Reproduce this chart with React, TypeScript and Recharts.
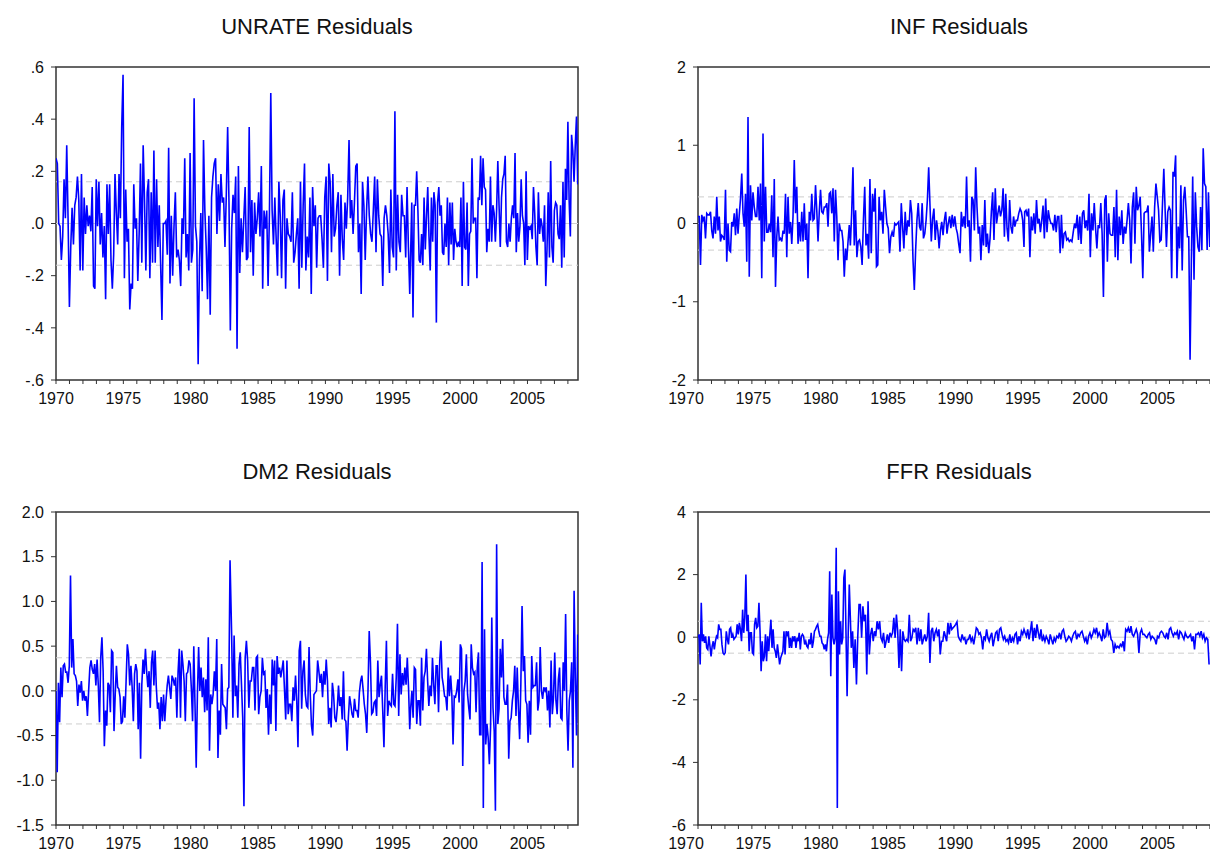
import React from "react"
import { LineChart, Line, XAxis, YAxis, ReferenceLine, ReferenceArea } from "recharts"

// x axis: one tick per year, labels every five years
const yearTicks = [
  1970, 1971, 1972, 1973, 1974, 1975, 1976, 1977, 1978, 1979,
  1980, 1981, 1982, 1983, 1984, 1985, 1986, 1987, 1988, 1989,
  1990, 1991, 1992, 1993, 1994, 1995, 1996, 1997, 1998, 1999,
  2000, 2001, 2002, 2003, 2004, 2005, 2006, 2007, 2008,
]
const yearLabels = ["1970", "1975", "1980", "1985", "1990", "1995", "2000", "2005"]

// y axes
const unrateTicks = [-0.6, -0.4, -0.2, 0, 0.2, 0.4, 0.6]
const unrateTickLabels = ["-.6", "-.4", "-.2", ".0", ".2", ".4", ".6"]
const infTicks = [-2, -1, 0, 1, 2]
const infTickLabels = ["-2", "-1", "0", "1", "2"]
const dm2Ticks = [-1.5, -1, -0.5, 0, 0.5, 1, 1.5, 2]
const dm2TickLabels = ["-1.5", "-1.0", "-0.5", "0.0", "0.5", "1.0", "1.5", "2.0"]
const ffrTicks = [-6, -4, -2, 0, 2, 4]
const ffrTickLabels = ["-6", "-4", "-2", "0", "2", "4"]

// +/- band drawn as dashed lines
const unrateBand = 0.16
const infBand = 0.34
const dm2Band = 0.37
const ffrBand = 0.51

// residuals in three stretches per series
const unrateA = [
  0.25, 0.23, 0.0, -0.01, -0.14, -0.05, 0.17, 0.02, 0.3, 0.02,
  -0.32, -0.09, 0.06, -0.08, 0.07, 0.1, 0.18, 0.09, -0.18, 0.19,
  -0.18, 0.1, -0.04, 0.07, -0.01, 0.03, -0.03, 0.14, -0.24, -0.25,
  0.17, -0.01, 0.16, -0.08, 0.04, -0.13, -0.01, -0.29, 0.15, -0.04,
  0.15, -0.14, -0.25, -0.12, 0.19, 0.04, -0.08, 0.19, 0.02, 0.37,
  0.57, -0.21, 0.13, -0.07, -0.02, -0.33, -0.23, -0.25, 0.15, -0.02,
  0.02, -0.22, -0.04, 0.23, -0.15, 0.3, 0.09, -0.18, 0.12, 0.17,
  -0.21, 0.12, -0.15, 0.28, -0.15, 0.17, -0.09, 0.07, -0.15, -0.37,
  0.0, 0.0, 0.01, -0.12, 0.29, -0.23, 0.03, -0.2, -0.01, 0.12,
  -0.13, -0.1, -0.14, -0.24, 0.02, -0.04, 0.25, -0.13, -0.04, -0.18,
  0.27, -0.15, -0.1, 0.48, -0.01, -0.07, -0.54, -0.14, 0.04, -0.26,
  0.32, 0.05, -0.09, -0.29, 0.03, -0.35, 0.1, 0.18, 0.23, 0.25,
  -0.04, 0.15, 0.01, 0.19, 0.08, 0.1, -0.09, 0.11, 0.37, 0.08,
  -0.41, -0.02, 0.11, 0.04,
]
const unrateB = [
  0.18, -0.48, 0.22, -0.19, 0.02, -0.11, 0.02, 0.14, -0.14, -0.13,
  0.37, -0.11, 0.09, -0.2, 0.08, -0.04, 0.02, 0.12, -0.05, 0.22,
  -0.25, 0.05, -0.02, 0.05, -0.24, 0.04, 0.5, 0.05, -0.08, 0.1,
  -0.06, -0.2, 0.16, 0.03, -0.21, 0.09, 0.13, -0.25, 0.02, -0.04,
  -0.05, -0.07, 0.12, -0.15, -0.11, -0.04, 0.02, -0.25, 0.16, -0.17,
  0.07, 0.23, -0.18, -0.05, -0.13, 0.1, -0.27, 0.14, -0.01, 0.07,
  -0.17, 0.02, 0.03, 0.03, -0.06, -0.17, 0.1, 0.18, -0.22, 0.23,
  0.16, -0.11, 0.19, -0.05, -0.02, 0.07, 0.12, -0.2, 0.11, -0.06,
  -0.14, 0.08, -0.02, 0.1, 0.32, 0.02, 0.09, -0.04, 0.08, 0.22,
  0.23, -0.11, 0.0, -0.27, 0.16, 0.07, -0.14, 0.05, 0.18, 0.03,
  -0.04, -0.07, 0.05, 0.18, -0.11, 0.17, 0.03, -0.04, -0.05, -0.24,
  0.02, 0.07, 0.03, -0.04, -0.19, 0.13, -0.09, -0.13, 0.43, -0.18,
  0.11, -0.07, -0.11, 0.11, 0.03, 0.03, -0.13, 0.14, -0.09, -0.27,
]
const unrateC = [
  0.08, -0.36, 0.07, 0.07, 0.2, 0.05, -0.14, -0.15, -0.04, -0.16,
  0.1, -0.1, 0.03, 0.14, -0.05, -0.18, 0.1, -0.07, 0.12, 0.07,
  -0.38, 0.08, 0.14, 0.03, 0.07, -0.11, -0.12, 0.0, -0.09, 0.1,
  -0.16, 0.08, -0.08, 0.08, -0.14, -0.02, -0.07, -0.09, -0.07, -0.09,
  0.1, -0.24, 0.16, -0.09, -0.1, 0.08, -0.24, -0.04, -0.03, 0.25,
  0.0, 0.02, 0.02, -0.21, 0.1, 0.09, 0.26, 0.07, 0.25, 0.14,
  0.13, -0.11, -0.02, -0.07, 0.18, -0.07, 0.07, 0.04, -0.07, 0.05,
  0.24, 0.07, -0.09, 0.1, 0.17, 0.19, 0.26, -0.07, -0.09, 0.0,
  -0.07, 0.02, 0.07, 0.02, 0.27, -0.11, 0.04, -0.07, -0.01, 0.17,
  0.03, 0.0, -0.16, 0.2, -0.14, -0.01, -0.02, -0.01, -0.06, 0.14,
  0.04, -0.09, -0.16, 0.12, -0.04, 0.02, -0.01, -0.07, 0.07, -0.24,
  -0.1, 0.12, -0.13, 0.24, -0.09, -0.15, 0.05, 0.08, 0.07, -0.04,
  -0.06, 0.07, -0.17, 0.16, -0.13, 0.21, 0.09, 0.39, 0.09, -0.05,
  0.34, 0.28, 0.16, 0.3, 0.41, 0.15,
]
const unrateSpans = [[1970, 1983.24], [1983.34, 1996.26], [1996.41, 2008.73]]

const infA = [
  0.09, 0.09, -0.53, 0.11, 0.04, 0.09, -0.19, 0.13, 0.11, 0.11,
  0.15, -0.09, -0.19, 0.09, -0.13, 0.34, -0.09, 0.09, -0.23, -0.15,
  -0.17, -0.21, 0.43, -0.49, 0.0, -0.34, -0.36, 0.02, -0.04, 0.13,
  -0.15, 0.19, -0.13, 0.11, 0.32, 0.64, 0.13, -0.04, 0.38, -0.49,
  1.36, -0.68, 0.49, 0.04, 0.4, 0.21, 0.09, 0.09, 0.47, 0.04,
  0.51, -0.7, 1.15, -0.23, 0.47, -0.11, -0.11, 0.0, -0.11, 0.36,
  -0.43, 0.57, -0.81, -0.17, 0.09, -0.21, -0.19, -0.23, -0.09, -0.13,
  0.38, -0.43, 0.34, -0.13, 0.02, -0.26, 0.09, 0.81, 0.13, 0.47,
  -0.26, 0.02, -0.23, 0.15, -0.23, 0.26, -0.21, 0.0, -0.7, 0.15,
  0.04, 0.38, 0.04, 0.06, 0.49, 0.17, -0.23, 0.15, 0.43, 0.15,
  0.13, 0.21, 0.21, 0.26, -0.04, 0.38, 0.4, 0.13, 0.45, -0.23,
  0.43, 0.09, -0.47, 0.0, -0.09, -0.09, -0.23, -0.68, -0.32, -0.47,
  -0.23, -0.02,
]
const infB = [
  -0.28, 0.13, 0.72, -0.28, 0.17, -0.43, -0.23, -0.21, -0.3, -0.53,
  0.04, 0.47, -0.28, -0.13, -0.45, 0.57, -0.38, 0.38, 0.15, 0.45,
  -0.55, -0.53, 0.34, 0.04, 0.15, -0.13, 0.43, 0.21, 0.0, -0.06,
  -0.38, -0.17, -0.11, -0.17, 0.0, -0.02, 0.0, 0.02, -0.36, 0.26,
  -0.04, -0.32, 0.15, -0.15, 0.04, -0.04, 0.3, 0.13, -0.47, -0.85,
  -0.34, 0.04, 0.26, -0.04, -0.09, 0.26, -0.19, -0.13, 0.04, 0.3,
  0.72, 0.23, -0.23, 0.06, 0.19, -0.21, 0.04, -0.09, -0.32, -0.09,
  0.02, -0.15, 0.04, 0.15, -0.13, 0.0, 0.09, -0.06, 0.11, -0.04,
  0.09, -0.06, -0.13, -0.26, -0.38, 0.15, -0.04, 0.09, -0.06, 0.6,
  -0.04, 0.04, -0.49, 0.34, 0.3, -0.09, 0.72, 0.21, -0.13, -0.04,
  -0.47, -0.02, -0.28, 0.3, -0.3, -0.13, -0.38, -0.19, 0.15, 0.4,
  -0.21, 0.45, 0.0, 0.13, 0.23, 0.09, 0.17, 0.45, -0.17, 0.38,
  -0.06, -0.23, 0.3, -0.04, -0.13, 0.09, -0.04, 0.04, 0.04, 0.13,
  0.19, 0.15, 0.04, -0.3,
]
const infC = [
  0.15, 0.17, 0.09, 0.19, -0.43, 0.09, -0.09, 0.13, -0.13, 0.3,
  0.0, 0.06, -0.11, 0.04, 0.23, -0.19, 0.32, -0.11, 0.17, 0.06,
  0.0, 0.0, -0.09, 0.11, -0.11, 0.09, 0.09, -0.38, 0.11, -0.32,
  -0.13, -0.11, -0.21, -0.19, -0.23, -0.21, -0.23, -0.11, 0.0, -0.06,
  0.11, -0.21, 0.09, -0.26, 0.13, 0.17, -0.06, 0.04, -0.09, 0.38,
  -0.43, 0.13, -0.09, 0.26, -0.06, -0.32, -0.02, -0.06, 0.26, -0.13,
  -0.94, 0.3, 0.36, -0.49, 0.13, -0.13, -0.15, -0.15, 0.21, -0.43,
  0.43, -0.47, 0.09, -0.15, 0.17, -0.26, -0.04, -0.13, 0.04, 0.26,
  0.04, -0.51, 0.21, 0.4, -0.26, 0.47, 0.17, 0.23, 0.34, -0.13,
  -0.7, 0.13, 0.15, 0.15, 0.23, -0.36, -0.13, 0.09, -0.36, 0.21,
  0.51, 0.34, 0.17, -0.23, -0.21, 0.26, 0.7, 0.17, -0.3, 0.15,
  0.21, 0.17, -0.7, 0.66, 0.6, 0.87, -0.7, -0.04, -0.32, 0.49,
  -0.6, 0.3, 0.47, 0.17, -0.17, -0.17, -1.74, -0.47, 0.6, -0.72,
  0.4, -0.04, -0.3, -0.36, 0.21, -0.34, 0.96, 0.51, 0.47, -0.34,
  0.4, -0.3,
]
const infSpans = [[1970, 1981.23], [1981.31, 1994.2], [1994.25, 2007.99]]

const dm2A = [
  0.0, -0.91, 0.09, -0.35, 0.26, -0.07, 0.28, 0.3, 0.21, 0.21,
  0.09, 0.28, 1.29, 0.26, 0.58, 0.19, 0.17, 0.11, -0.17, 0.07,
  -0.02, 0.11, -0.11, 0.0, -0.11, -0.06, -0.28, 0.0, 0.26, 0.34,
  0.24, 0.19, 0.3, 0.06, 0.35, 0.06, -0.35, 0.37, 0.6, 0.22,
  -0.62, -0.22, -0.39, 0.09, 0.06, -0.24, 0.45, 0.43, -0.45, -0.04,
  0.28, 0.04, 0.02, -0.07, -0.37, -0.34, -0.06, -0.3, 0.11, 0.52,
  0.41, 0.06, 0.28, 0.04, -0.34, 0.19, 0.3, 0.22, -0.43, 0.09,
  -0.76, 0.07, 0.35, 0.19, 0.47, 0.22, 0.04, 0.22, -0.19, 0.32,
  0.45, 0.06, 0.45, 0.04, -0.2, -0.13, -0.43, -0.07, -0.34, -0.04,
  -0.34, -0.11, 0.06, 0.17, 0.04, -0.09, 0.17, 0.13, 0.06, 0.15,
  -0.3, 0.21, 0.47, -0.3, 0.45, 0.3, 0.11, -0.34, 0.19, 0.21,
  0.34, 0.3, 0.02, -0.34, 0.5, -0.15, -0.86, -0.04, 0.49, 0.0,
  0.26, -0.07, 0.15, -0.24, 0.13, -0.22, 0.6, -0.67, -0.04, -0.15,
  -0.04, 0.22, 0.0, 0.58, -0.75, -0.22, -0.49, 0.3, -0.15, -0.17,
  -0.19, -0.43, 0.02, 0.04, 1.46,
]
const dm2B = [
  0.62, -0.3, 0.62, -0.06, 0.06, -0.3, 0.3, 0.43, 0.07, -0.3,
  -1.29, 0.37, 0.56, 0.34, -0.19, 0.11, 0.11, 0.26, 0.26, -0.22,
  0.37, 0.39, -0.26, -0.07, 0.0, 0.37, 0.19, 0.21, -0.19, 0.02,
  -0.49, -0.04, -0.37, 0.35, 0.06, 0.34, -0.45, 0.39, 0.19, 0.26,
  0.15, 0.24, 0.34, 0.02, -0.32, 0.34, -0.26, -0.15, -0.15, -0.34,
  0.04, -0.11, 0.17, -0.11, -0.63, 0.45, 0.56, -0.2, 0.22, 0.34,
  -0.04, -0.17, -0.19, 0.49, -0.04, -0.39, -0.5, -0.04, -0.02, 0.0,
  0.34, 0.22, 0.09, 0.19, -0.07, 0.22, 0.07, 0.35, 0.11, -0.37,
  -0.19, -0.41, 0.09, -0.04, -0.3, -0.35, -0.19, 0.06, -0.17, -0.07,
  -0.32, 0.22, -0.32, -0.34, -0.67, -0.3, -0.06, -0.15, -0.26, -0.3,
  -0.09, -0.22, -0.22, -0.3, -0.02, 0.11, 0.17, 0.02, -0.15, -0.26,
  -0.47, 0.0, 0.67, 0.32, -0.26, -0.24, -0.13, -0.11, -0.28, 0.34,
  -0.07, 0.07, 0.17, -0.22, -0.63, 0.04, 0.56, -0.28, -0.11, -0.15,
  -0.17, 0.19, -0.15, -0.17, 0.15, 0.75, -0.28, 0.41, -0.04, 0.2,
  0.06, 0.26, 0.07, 0.37, 0.04, -0.43,
]
const dm2C = [
  -0.19, 0.0, -0.3, 0.26, 0.24, -0.37, -0.11, -0.11, -0.39, 0.37,
  -0.22, 0.15, 0.22, 0.47, 0.11, -0.17, 0.06, -0.06, 0.37, 0.07,
  -0.15, 0.28, 0.28, -0.24, 0.34, 0.56, 0.15, 0.06, -0.06, -0.07,
  -0.22, 0.26, -0.06, 0.17, -0.04, -0.6, -0.06, -0.07, 0.0, 0.13,
  -0.13, 0.52, 0.47, -0.84, 0.0, 0.11, 0.41, -0.04, -0.19, -0.32,
  0.52, 0.26, 0.19, 0.21, -0.24, 0.26, 0.43, -0.49, -0.49, 1.44,
  -1.31, 0.69, -0.6, -0.37, -0.52, -0.82, -0.41, 0.82, -0.19, -0.45,
  -1.34, 1.64, -0.37, -0.2, 0.47, 0.15, 0.58, -0.07, -0.15, -0.15,
  0.07, -0.76, -0.34, -0.3, -0.11, 0.0, 0.28, -0.28, 0.26, -0.19,
  -0.54, 0.07, 0.95, 0.22, 0.39, -0.11, -0.15, -0.58, -0.11, -0.49,
  0.39, 0.04, 0.06, 0.06, 0.32, -0.22, -0.11, 0.49, 0.0, -0.09,
  0.04, 0.0, 0.04, -0.22, 0.0, -0.41, 0.34, -0.26, -0.07, 0.43,
  -0.11, -0.26, 0.13, 0.26, -0.3, -0.32, 0.32, 0.0, 0.86, -0.22,
  -0.67, -0.11, 0.0, 0.32, -0.86, 1.12, 0.15, -0.5, 0.63,
]
const dm2Spans = [[1970, 1982.92], [1983.04, 1996.26], [1996.33, 2008.73]]

const ffrA = [
  -0.02, 0.09, -0.87, 1.1, -0.13, 0.09, -0.18, 0.03, -0.34, -0.39,
  0.03, -0.29, -0.61, -0.29, -0.13, -0.39, -0.13, 0.03, -0.02, 0.41,
  0.25, 0.25, -0.23, -0.5, -0.55, -0.5, 0.19, -0.07, -0.23, 0.25,
  0.3, -0.02, 0.09, -0.07, -0.02, 0.03, 0.41, 0.09, 0.46, 0.25,
  -0.13, 0.88, 0.14, 0.62, 2.0, 0.19, 0.72, -0.45, 0.14, 0.14,
  -0.5, -0.55, 0.41, 0.62, 0.3, 0.35, 1.1, 0.19, -1.09, -0.13,
  -0.77, -0.61, 0.09, -0.77, 0.03, -0.45, 0.09, 0.56, -0.34, 0.25,
  -0.34, -0.45, -0.66, -0.23, -0.55, -0.87, -0.66, -0.55, -0.45, 0.19,
  -0.55, 0.19, 0.03, 0.19, -0.34, -0.02, -0.34, 0.03, -0.13, 0.03,
  -0.34, -0.02, -0.13, 0.14, -0.39, 0.03, 0.09, 0.03, -0.23, -0.13,
  -0.29, -0.34, -0.07, -0.23, 0.14, -0.34, -0.13, 0.19, 0.25, 0.35,
  0.41, 0.19, 0.03, 0.03, -0.18, -0.23, -0.39, -0.23, -0.45, -0.07,
  0.14, 2.11, -1.25, 1.36, -0.02, -0.23, -0.02, 2.86, -5.46,
  1.47, -0.55, 0.51, -0.23, -0.02, 1.9, 2.16, 0.09, -1.89, 0.09,
  1.68,
]
const ffrB = [
  -0.34, 0.19, -0.98, -0.07, -1.51, 0.0, 1.04, 1.04, -0.02, 0.99,
  0.51, 0.72, -1.19, 1.15, -0.55, 0.09, 0.3, -0.13, 0.19, 0.03,
  0.51, 0.25, 0.51, -0.02, -0.13, 0.14, -0.34, -0.13, 0.09, -0.18,
  0.14, 0.03, 0.14, 0.62, -0.02, 0.72, 0.19, -0.98, 0.25, -1.09,
  0.19, -0.07, -0.13, -0.07, -0.13, 0.72, -0.13, -0.02, 0.25, 0.19,
  0.3, -0.23, 0.3, -0.13, 0.25, -0.23, -0.07, 0.09, -0.13, 0.03,
  0.78, -0.82, 0.19, 0.3, -0.13, 0.14, 0.25, 0.03, 0.25, -0.55,
  -0.13, -0.13, 0.19, 0.03, -0.13, 0.46, 0.09, 0.46, 0.25, 0.3,
  0.35, 0.41, 0.49, 0.03, -0.07, -0.13, 0.09, -0.07, -0.02, -0.23,
  -0.07, -0.07, 0.09, -0.13, -0.02, -0.23, 0.03, 0.3, 0.25, 0.09,
  0.14, -0.02, -0.39, 0.03, -0.07, 0.25, -0.02, -0.13, 0.03, 0.14,
  -0.29, -0.07, 0.14, 0.19, -0.13, 0.25, 0.3, 0.09, -0.07, 0.03,
  -0.13, -0.07, -0.18, 0.09, -0.18, -0.02, -0.13, 0.09, 0.14, -0.23,
  0.03, -0.13, 0.19, 0.09, 0.25,
]
const ffrC = [
  0.14, 0.03, 0.25, -0.07, 0.19, 0.51, -0.13, 0.3, -0.02, 0.41,
  0.14, -0.07, 0.25, -0.13, 0.03, -0.13, 0.03, -0.07, -0.23, 0.09,
  -0.07, -0.23, -0.02, -0.13, 0.03, -0.02, 0.14, -0.07, 0.19, 0.25,
  0.03, -0.13, -0.07, 0.03, -0.02, -0.13, 0.03, 0.14, 0.19, -0.07,
  0.09, 0.03, 0.14, 0.19, 0.03, -0.13, -0.02, -0.23, 0.03, 0.14,
  -0.02, 0.09, 0.25, 0.14, 0.3, 0.03, 0.14, 0.03, -0.13, 0.25,
  -0.02, 0.03, 0.46, 0.09, 0.19, -0.07, -0.13, -0.5, -0.23, -0.34,
  -0.29, -0.34, -0.23, -0.29, -0.13, -0.45, 0.25, 0.19, 0.3, 0.14,
  0.35, 0.09, 0.03, 0.14, 0.25, 0.09, -0.5, 0.14, 0.25, 0.09,
  0.09, 0.03, -0.02, 0.09, 0.14, -0.07, 0.03, -0.02, -0.07, -0.23,
  0.03, -0.02, 0.14, 0.19, 0.14, 0.03, -0.02, 0.14, -0.07, 0.25,
  0.3, 0.14, 0.03, 0.14, 0.09, 0.19, -0.07, 0.19, 0.14, 0.03,
  -0.07, 0.14, 0.03, -0.02, 0.03, 0.09, -0.13, 0.03, -0.39, 0.09,
  0.09, 0.14, 0.03, 0.19, -0.02, 0.09, -0.13, -0.02, -0.07, -0.87,
]
const ffrSpans = [[1970, 1981.23], [1981.38, 1994.2], [1994.28, 2007.94]]

type Pt = { t: number; v: number }

// spread each stretch of observations evenly over its dates
function joinSegments(segs: number[][], spans: number[][]): Pt[] {
  const out: Pt[] = []
  segs.forEach((vals, k) => {
    const [a, b] = spans[k]
    const step = (b - a) / (vals.length - 1)
    vals.forEach((v, i) => out.push({ t: a + i * step, v }))
  })
  return out
}

const FONT = '"Liberation Sans", Arial, Helvetica, sans-serif'
const PLOT_W = 522
const PLOT_H = 313
const X_AXIS_H = 36
const MARGIN = { top: 10, right: 10, bottom: 0, left: 0 }
const X_MIN = 1970
const X_MAX = 2008.75

type PanelProps = {
  title: string
  data: Pt[]
  yTicks: number[]
  yLabels: string[]
  band: number
  x: number
  y: number
  yAxisW: number
  labelShift: number
}

function Panel({ title, data, yTicks, yLabels, band, x, y, yAxisW, labelShift }: PanelProps) {
  const yMin = yTicks[0]
  const yMax = yTicks[yTicks.length - 1]
  const fmtY = (v: number) => {
    const i = yTicks.findIndex((t) => Math.abs(t - v) < 1e-9)
    return i >= 0 ? yLabels[i] : ""
  }
  const tickStyle = { fontSize: 16, fill: "#111", fontFamily: FONT }
  const YearTick = (props: any) => {
    const label = String(props.payload.value)
    if (!yearLabels.includes(label)) return <g />
    return (
      <text
        x={props.x + labelShift}
        y={props.y}
        dy="0.71em"
        textAnchor="middle"
        fontSize={16}
        fill="#111"
        fontFamily={FONT}
      >
        {label}
      </text>
    )
  }
  return (
    <>
      <div
        style={{
          position: "absolute",
          left: x,
          top: y - 53,
          width: PLOT_W,
          textAlign: "center",
          fontSize: 22,
          lineHeight: "26px",
          fontFamily: FONT,
          color: "#111",
        }}
      >
        {title}
      </div>
      <div style={{ position: "absolute", left: x - yAxisW, top: y - MARGIN.top }}>
        <LineChart
          width={yAxisW + PLOT_W + MARGIN.right}
          height={MARGIN.top + PLOT_H + X_AXIS_H}
          data={data}
          margin={MARGIN}
        >
          <XAxis
            type="number"
            dataKey="t"
            domain={[X_MIN, X_MAX]}
            ticks={yearTicks}
            interval={0}
            axisLine={false}
            tickLine={{ stroke: "#333" }}
            tickSize={4}
            tickMargin={9}
            height={X_AXIS_H}
            tick={YearTick}
            allowDataOverflow
          />
          <YAxis
            type="number"
            domain={[yMin, yMax]}
            ticks={yTicks}
            interval={0}
            tickFormatter={fmtY}
            width={yAxisW}
            axisLine={false}
            tickLine={{ stroke: "#333" }}
            tickSize={5}
            tickMargin={7}
            tick={tickStyle}
            allowDataOverflow
          />
          <ReferenceLine y={0} stroke="#d0d0d0" strokeWidth={1} />
          <ReferenceLine y={band} stroke="#cdcdcd" strokeDasharray="6 4" />
          <ReferenceLine y={-band} stroke="#cdcdcd" strokeDasharray="6 4" />
          <Line
            type="linear"
            dataKey="v"
            stroke="#0000ff"
            strokeWidth={1.6}
            dot={false}
            isAnimationActive={false}
          />
          <ReferenceArea
            x1={X_MIN}
            x2={X_MAX}
            y1={yMin}
            y2={yMax}
            fill="none"
            fillOpacity={0}
            stroke="#333"
            strokeWidth={1.5}
          />
        </LineChart>
      </div>
    </>
  )
}

export default function App() {
  const unrate = joinSegments([unrateA, unrateB, unrateC], unrateSpans)
  const inf = joinSegments([infA, infB, infC], infSpans)
  const dm2 = joinSegments([dm2A, dm2B, dm2C], dm2Spans)
  const ffr = joinSegments([ffrA, ffrB, ffrC], ffrSpans)
  return (
    <div
      style={{
        position: "absolute",
        left: 0,
        top: 0,
        width: 1210,
        height: 852,
        overflow: "hidden",
        background: "#fff",
      }}
    >
      <Panel title="UNRATE Residuals" data={unrate} yTicks={unrateTicks} yLabels={unrateTickLabels} band={unrateBand} x={56} y={67} yAxisW={56} labelShift={0} />
      <Panel title="INF Residuals" data={inf} yTicks={infTicks} yLabels={infTickLabels} band={infBand} x={698} y={67} yAxisW={44} labelShift={-12} />
      <Panel title="DM2 Residuals" data={dm2} yTicks={dm2Ticks} yLabels={dm2TickLabels} band={dm2Band} x={56} y={512} yAxisW={56} labelShift={0} />
      <Panel title="FFR Residuals" data={ffr} yTicks={ffrTicks} yLabels={ffrTickLabels} band={ffrBand} x={698} y={512} yAxisW={44} labelShift={-12} />
    </div>
  )
}
